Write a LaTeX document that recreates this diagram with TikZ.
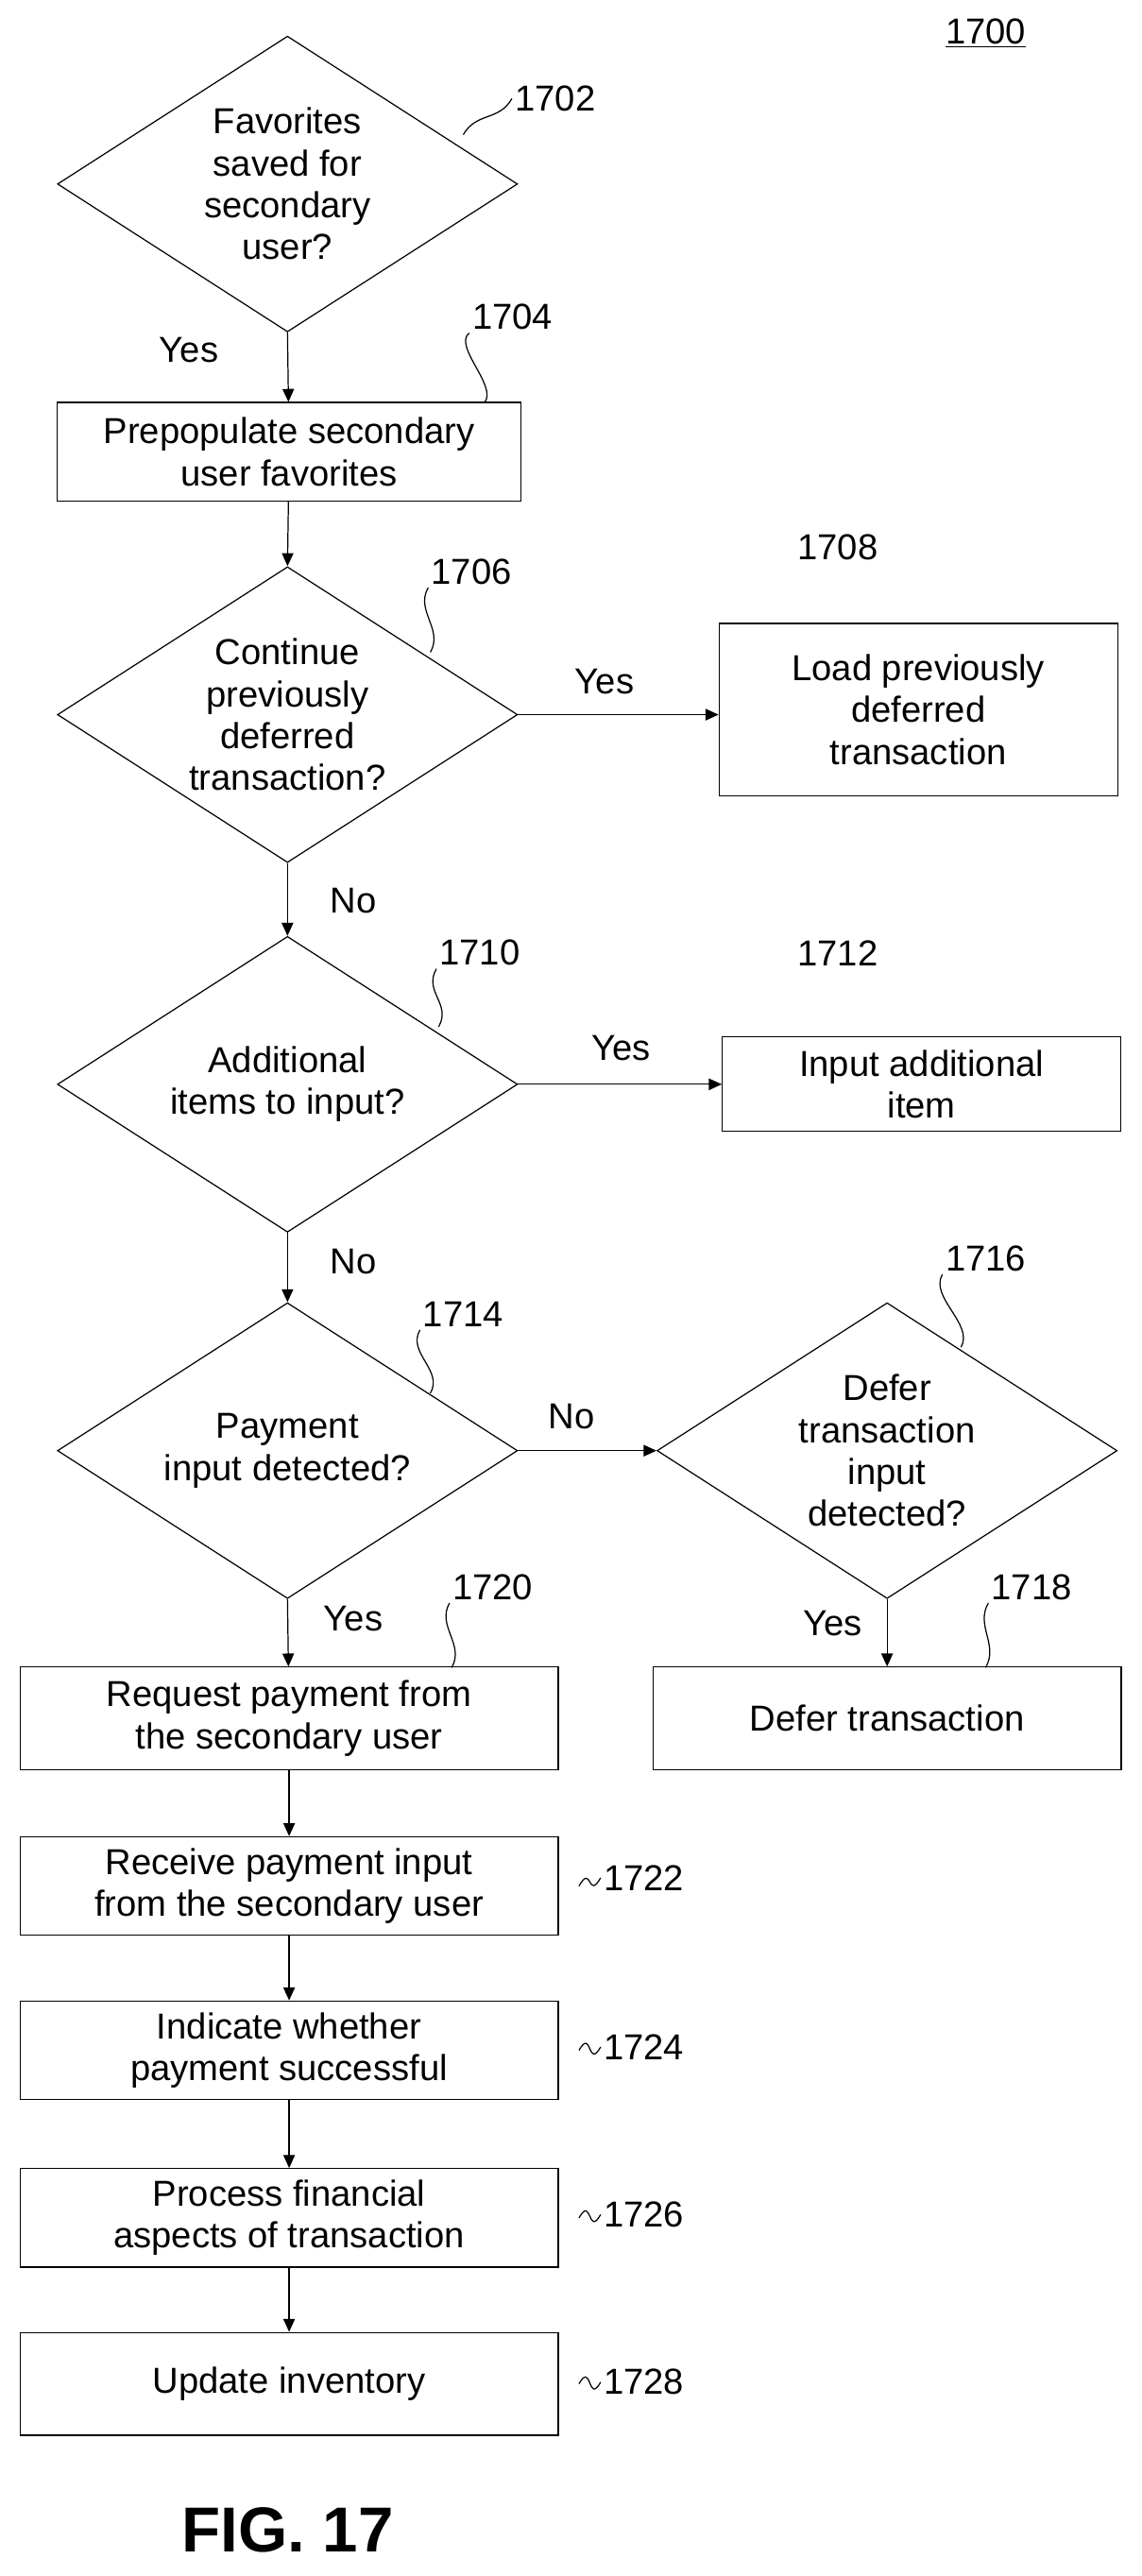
\documentclass[tikz,border=0pt]{standalone}
\usepackage{fontspec}
\setmainfont{Liberation Sans}
\usetikzlibrary{shapes.geometric,arrows.meta}

\tikzset{
  box/.style={draw, thick, minimum height=2.4cm, align=center, inner sep=2pt},
  dia/.style={draw, thick, diamond, minimum width=11.2cm, minimum height=7.2cm, inner sep=0pt},
  txt/.style={align=center, inner sep=0pt},
  ref/.style={inner sep=2pt},
  flow/.style={thick, -{Triangle[length=9pt,width=8pt]}},
  lead/.style={thick}
}
\newcommand{\wiggle}[2]{\draw[lead] (#1) .. controls +(8,-14) and +(-8,14) .. (#2);}

\begin{document}
\begin{tikzpicture}[x=0.04cm, y=-0.04cm, font=\fontsize{25}{29}\selectfont]
    \useasboundingbox (0,0) rectangle (695,1568);

    % figure number
    \node[ref] (n1700) at (600,20) {\underline{1700}};

    % decision 1702
    \node[dia] (d1702) at (175,112) {};
    \node[txt] (t1702) at (d1702) {Favorites\\saved for\\secondary\\user?};
    \node[ref] (l1702) at (338,60) {1702};
    \coordinate (c1702) at (282,82);
    \wiggle{c1702}{l1702.west}

    % step 1704
    \node[box, minimum width=11.3cm] (b1704) at (176,275) {Prepopulate secondary\\user favorites};
    \node[ref] (l1704) at (312,193) {1704};
    \coordinate (c1704) at (295,245);
    \draw[lead] (c1704) .. controls +(8,-10) and +(-10,8) .. (l1704.south west);
    \node (y1702) at (115,213) {Yes};

    % decision 1706
    \node[dia] (d1706) at (175,435) {};
    \node[txt] (t1706) at (d1706) {Continue\\previously\\deferred\\transaction?};
    \node[ref] (l1706) at (287,348) {1706};
    \coordinate (c1706) at (262,397);
    \wiggle{c1706}{l1706.south west}
    \node[box, minimum width=9.7cm, minimum height=4.2cm] (b1708) at (559,432) {Load previously\\deferred\\transaction};
    \node[ref] (l1708) at (510,333) {1708};
    \node (y1706) at (368,415) {Yes};
    \node (n1706) at (215,548) {No};

    % decision 1710
    \node[dia] (d1710) at (175,660) {};
    \node[txt] (t1710) at (d1710) {Additional\\items to input?};
    \node[ref] (l1710) at (292,580) {1710};
    \coordinate (c1710) at (267,625);
    \wiggle{c1710}{l1710.south west}
    \node[box, minimum width=9.7cm, minimum height=2.3cm] (b1712) at (561,660) {Input additional\\item};
    \node[ref] (l1712) at (510,580) {1712};
    \node (y1710) at (378,638) {Yes};
    \node (n1710) at (215,768) {No};

    % decision 1714
    \node[dia] (d1714) at (175,883) {};
    \node[txt] (t1714) at (d1714) {Payment\\input detected?};
    \node[ref] (l1714) at (282,800) {1714};
    \coordinate (c1714) at (262,848);
    \wiggle{c1714}{l1714.south west}
    \node (n1714) at (348,862) {No};

    % decision 1716
    \node[dia] (d1716) at (540,883) {};
    \node[txt] (t1716) at (d1716) {Defer\\transaction\\input\\detected?};
    \node[ref] (l1716) at (600,766) {1716};
    \coordinate (c1716) at (585,820);
    \wiggle{c1716}{l1716.south west}
    \node (y1716) at (507,988) {Yes};

    % step 1718
    \node[box, minimum width=11.4cm, minimum height=2.5cm] (b1718) at (540,1046) {Defer transaction};
    \node[ref] (l1718) at (628,966) {1718};
    \coordinate (c1718) at (600,1015);
    \wiggle{c1718}{l1718.south west}

    % step 1720
    \node (y1714) at (215,985) {Yes};
    \node[box, minimum width=13.1cm, minimum height=2.5cm] (b1720) at (176,1046) {Request payment from\\the secondary user};
    \node[ref] (l1720) at (300,966) {1720};
    \coordinate (c1720) at (275,1015);
    \wiggle{c1720}{l1720.south west}

    % steps 1722 - 1728
    \node[box, minimum width=13.1cm] (b1722) at (176,1148) {Receive payment input\\from the secondary user};
    \node[box, minimum width=13.1cm] (b1724) at (176,1248) {Indicate whether\\payment successful};
    \node[box, minimum width=13.1cm] (b1726) at (176,1350) {Process financial\\aspects of transaction};
    \node[box, minimum width=13.1cm, minimum height=2.5cm] (b1728) at (176,1451) {Update inventory};
    \node[ref] (l1722) at (392,1143) {1722};
    \node[ref] (l1724) at (392,1246) {1724};
    \node[ref] (l1726) at (392,1348) {1726};
    \node[ref] (l1728) at (392,1450) {1728};
    \draw[lead] ([xshift=14]b1722.east) .. controls +(8,-14) and +(-8,14) .. (l1722.west);
    \draw[lead] ([xshift=14]b1724.east) .. controls +(8,-14) and +(-8,14) .. (l1724.west);
    \draw[lead] ([xshift=14]b1726.east) .. controls +(8,-14) and +(-8,14) .. (l1726.west);
    \draw[lead] ([xshift=14]b1728.east) .. controls +(8,-14) and +(-8,14) .. (l1728.west);

    % connectors
    \draw[flow] (d1702.south) -- (b1704);
    \draw[flow] (b1704) -- (d1706.north);
    \draw[flow] (d1706.east) -- (b1708.west |- d1706.east);
    \draw[flow] (d1706.south) -- (d1710.north);
    \draw[flow] (d1710.east) -- (b1712.west |- d1710.east);
    \draw[flow] (d1710.south) -- (d1714.north);
    \draw[flow] (d1714.east) -- (d1716.west);
    \draw[flow] (d1716.south) -- (b1718);
    \draw[flow] (d1714.south) -- (b1720);
    \draw[flow] (b1720) -- (b1722);
    \draw[flow] (b1722) -- (b1724);
    \draw[flow] (b1724) -- (b1726);
    \draw[flow] (b1726) -- (b1728);

    % caption
    \node[font=\fontsize{44}{48}\selectfont\bfseries] (fig) at (175,1540) {FIG. 17};
\end{tikzpicture}
\end{document}
